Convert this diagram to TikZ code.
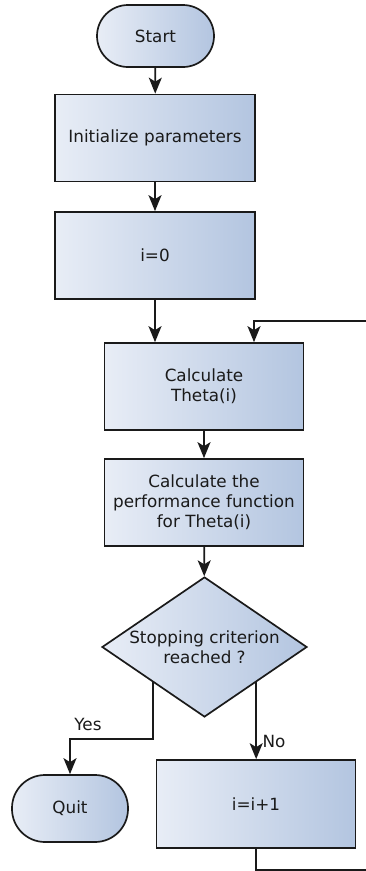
\documentclass[tikz,border=0pt]{standalone}
\usepackage{fontspec}
\setmainfont{DejaVu Sans}
\usetikzlibrary{shapes.geometric,arrows.meta,calc}
\definecolor{cl}{HTML}{E8EDF6}
\definecolor{cd}{HTML}{B3C5E0}
\definecolor{ln}{HTML}{1A1A1A}
\tikzset{
  grad/.style={left color=cl, right color=cd, draw=ln, line width=1.7pt},
  procbox/.style={grad, rectangle, minimum width=199pt, minimum height=87pt, inner sep=0pt, align=center},
  pill/.style={grad, rectangle, rounded corners=31pt, minimum width=117pt, minimum height=62pt, inner sep=0pt},
  decision/.style={grad, diamond, aspect=1.46, minimum width=205pt, minimum height=140pt, inner sep=0pt, align=center},
  arr/.style={draw=ln, line width=1.7pt, -{Stealth[length=16pt,width=13pt,inset=4pt]}},
  lbl/.style={inner sep=0pt, text=ln}
}
\begin{document}
\begin{tikzpicture}[x=1pt,y=-1pt, every node/.style={font=\fontsize{16.8}{20}\selectfont, text=ln}]
\useasboundingbox (0,0) rectangle (365,871);
\node[pill] (start) at (155.5,36) {Start};
\node[procbox, minimum width=200pt] (init) at (155,138) {Initialize parameters};
\node[procbox, minimum width=200pt] (i0) at (155,255.5) {i=0};
\node[procbox] (calc) at (204,386.5) {Calculate\\ Theta(i)};
\node[procbox] (perf) at (204,502.5) {Calculate the\\performance function\\for Theta(i)};
\node[decision] (dec) at (204.5,647) {Stopping criterion\\reached ?};
\node[pill, minimum width=116pt, minimum height=67pt, rounded corners=33pt] (quit) at (70,808.5) {Quit};
\node[procbox, minimum height=88pt] (inc) at (256,804) {i=i+1};

\coordinate (yes) at ($(dec.west)!0.5!(dec.south)$);
\coordinate (no) at ($(dec.east)!0.5!(dec.south)$);
\coordinate (loopin) at ($(calc.north)+(50,0)$);
\coordinate (loopa) at (256,870);
\coordinate (loopb) at (370,870);
\coordinate (loopc) at (370,321);

\draw[arr] (start) -- (init);
\draw[arr] (init) -- (i0);
\draw[arr] (i0.south) -- (i0.south |- calc.north);
\draw[arr] (calc) -- (perf);
\draw[arr] (perf) -- (dec);
\draw[arr] (yes) -- (yes |- 0,739) -| (quit.north);
\draw[arr] (no) -- (no |- inc.north);
\draw[arr] (inc.south) -- (loopa) -- (loopb) -- (loopc) -| (loopin);

\node[lbl] (ylab) at (88,724) {Yes};
\node[lbl] (nlab) at (274,741) {No};
\end{tikzpicture}
\end{document}
